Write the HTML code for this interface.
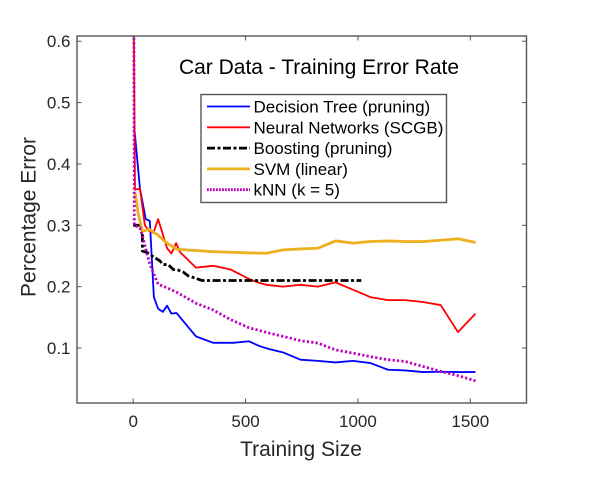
<!DOCTYPE html>
<html>
<head>
<meta charset="utf-8">
<title>Car Data - Training Error Rate</title>
<style>
html,body{margin:0;padding:0;background:#fff;width:593px;height:482px;overflow:hidden}
svg{display:block}
text{font-family:"Liberation Sans",Arial,sans-serif}
</style>
</head>
<body>
<svg id="chart" xmlns="http://www.w3.org/2000/svg" width="593" height="482" viewBox="0 0 593 482">
  <defs><clipPath id="plot-clip"><rect x="77" y="36" width="449.5" height="367"/></clipPath></defs>
  <rect x="0" y="0" width="593" height="482" fill="#fff"/>
  <g id="series-layer" clip-path="url(#plot-clip)"></g>
  <g id="axes-layer"></g>
  <text x="319" y="74" font-size="21" text-anchor="middle" fill="#000">Car Data - Training Error Rate</text>
  <text x="301" y="456" font-size="21" text-anchor="middle" fill="#262626">Training Size</text>
  <text transform="translate(35.5,217) rotate(-90)" font-size="21" text-anchor="middle" fill="#262626">Percentage Error</text>
  <g id="legend-layer"></g>
</svg>
<script>
// ---- chart data ----
var xTicks = [0, 500, 1000, 1500];
var yTicks = [0.1, 0.2, 0.3, 0.4, 0.5, 0.6];
var yTickLabels = ['0.1', '0.2', '0.3', '0.4', '0.5', '0.6'];
var seriesNames = ['Decision Tree (pruning)', 'Neural Networks (SCGB)', 'Boosting (pruning)', 'SVM (linear)', 'kNN (k = 5)'];

var treeX = [5, 30, 56, 74, 92, 111, 132, 151, 170, 193, 279, 356, 445, 515, 563, 608, 666, 744, 822, 900, 978, 1055, 1134, 1211, 1289, 1368, 1445, 1523];
var treeY = [0.459, 0.36, 0.31, 0.307, 0.183, 0.164, 0.159, 0.169, 0.156, 0.157, 0.119, 0.1085, 0.1085, 0.111, 0.103, 0.098, 0.093, 0.081, 0.079, 0.0765, 0.079, 0.0755, 0.0646, 0.0635, 0.0608, 0.0613, 0.0608, 0.0608];

var nnX = [3, 8, 30, 52, 71, 90, 111, 151, 170, 191, 208, 279, 356, 433, 515, 563, 593, 666, 744, 822, 900, 978, 1055, 1134, 1211, 1289, 1368, 1445, 1523];
var nnY = [0.62, 0.358, 0.36, 0.3, 0.291, 0.2875, 0.31, 0.2625, 0.254, 0.271, 0.2565, 0.231, 0.234, 0.228, 0.2127, 0.206, 0.203, 0.2, 0.203, 0.2, 0.207, 0.195, 0.183, 0.178, 0.178, 0.175, 0.17, 0.126, 0.156];

var boostX = [0, 30, 41, 41, 62, 89, 119, 133, 156, 178, 200, 222, 245, 267, 307, 400, 600, 800, 1015];
var boostY = [0.3, 0.3, 0.29, 0.258, 0.2555, 0.249, 0.242, 0.236, 0.236, 0.228, 0.227, 0.224, 0.2175, 0.215, 0.21, 0.21, 0.21, 0.21, 0.21];

var svmX = [2, 10, 22, 41, 71, 111, 141, 193, 279, 356, 515, 593, 666, 744, 822, 900, 978, 1055, 1134, 1211, 1289, 1368, 1445, 1523];
var svmY = [0.35, 0.35, 0.32, 0.29, 0.2935, 0.284, 0.2735, 0.261, 0.259, 0.257, 0.255, 0.2545, 0.26, 0.2615, 0.2626, 0.2745, 0.271, 0.2735, 0.2745, 0.2735, 0.2735, 0.2757, 0.278, 0.272];

var knnX = [3, 5, 30, 41, 74, 111, 148, 193, 279, 356, 430, 515, 608, 666, 744, 822, 900, 978, 1055, 1134, 1211, 1289, 1368, 1445, 1523];
var knnY = [0.62, 0.3, 0.296, 0.283, 0.2365, 0.204, 0.1985, 0.191, 0.173, 0.162, 0.147, 0.133, 0.124, 0.119, 0.112, 0.108, 0.097, 0.0916, 0.086, 0.081, 0.078, 0.07, 0.062, 0.055, 0.0465];

// ---- axis functions ----
var SVGNS = 'http://www.w3.org/2000/svg';
var plotL = 77, plotR = 526.5, plotT = 36, plotB = 403;
var xMin = -250, xMax = 1750, yMin = 0.0104, yMax = 0.6085;
function xScale(v) { return plotL + (v - xMin) / (xMax - xMin) * (plotR - plotL); }
function yScale(v) { return plotB - (v - yMin) / (yMax - yMin) * (plotB - plotT); }
function node(tag, attrs) {
  var el = document.createElementNS(SVGNS, tag);
  for (var k in attrs) { el.setAttribute(k, attrs[k]); }
  return el;
}

// ---- series ----
var seriesLayer = document.getElementById('series-layer');
function drawSeries(xs, ys, color, width, dash, name) {
  var pts = [];
  for (var i = 0; i < xs.length; i++) {
    pts.push(xScale(xs[i]).toFixed(2) + ',' + yScale(ys[i]).toFixed(2));
  }
  var line = node('polyline', {points: pts.join(' '), fill: 'none', stroke: color, 'stroke-width': width, 'stroke-linejoin': 'round'});
  if (dash) { line.setAttribute('stroke-dasharray', dash); }
  
  
  seriesLayer.appendChild(line);
}
drawSeries(treeX, treeY, '#0000ff', 1.8, '', 'series-decision-tree');
drawSeries(nnX, nnY, '#ff0000', 1.8, '', 'series-neural-networks');
drawSeries(boostX, boostY, '#000000', 2.8, '8 2.5 3 2.5', 'series-boosting');
drawSeries(svmX, svmY, '#edb120', 2.8, '', 'series-svm');
drawSeries(knnX, knnY, '#bf00bf', 2.8, '2.2 2.2', 'series-knn');

// ---- axes ----
var axes = document.getElementById('axes-layer');
var axisColor = '#555555';
var box = node('rect', {x: plotL, y: plotT, width: plotR - plotL, height: plotB - plotT, fill: 'none', stroke: axisColor, 'stroke-width': 1.4});


axes.appendChild(box);

xTicks.forEach(function (t) {
  var px = xScale(t);
  var tickB = node('line', {x1: px, x2: px, y1: plotB, y2: plotB - 4.5, stroke: axisColor, 'stroke-width': 1});
  
  
  axes.appendChild(tickB);
  var tickT = node('line', {x1: px, x2: px, y1: plotT, y2: plotT + 4.5, stroke: axisColor, 'stroke-width': 1});
  
  
  axes.appendChild(tickT);
  var label = node('text', {x: px, y: 427, 'font-size': 17, 'text-anchor': 'middle', fill: '#262626'});
  label.textContent = String(t);
  
  
  axes.appendChild(label);
});

yTicks.forEach(function (t, i) {
  var py = yScale(t);
  var tickL = node('line', {x1: plotL, x2: plotL + 4.5, y1: py, y2: py, stroke: axisColor, 'stroke-width': 1});
  
  
  axes.appendChild(tickL);
  var tickR = node('line', {x1: plotR, x2: plotR - 4.5, y1: py, y2: py, stroke: axisColor, 'stroke-width': 1});
  
  
  axes.appendChild(tickR);
  var label = node('text', {x: 70.5, y: py + 6, 'font-size': 17, 'text-anchor': 'end', fill: '#262626'});
  label.textContent = yTickLabels[i];
  
  
  axes.appendChild(label);
});

// ---- legend ----
var legend = document.getElementById('legend-layer');
var legendBox = node('rect', {x: 201, y: 94.5, width: 245.5, height: 108, fill: '#fff', stroke: axisColor, 'stroke-width': 1.4});


legend.appendChild(legendBox);
var legendColors = ['#0000ff', '#ff0000', '#000000', '#edb120', '#bf00bf'];
var legendWidths = [1.8, 1.8, 2.8, 2.8, 2.8];
var legendDashes = ['', '', '8 2.5 3 2.5', '', '1.8 1.2'];
seriesNames.forEach(function (name, i) {
  var rowY = 106.5 + i * 20.8;
  var swatch = node('line', {x1: 207, x2: 250, y1: rowY, y2: rowY, stroke: legendColors[i], 'stroke-width': legendWidths[i]});
  if (legendDashes[i]) { swatch.setAttribute('stroke-dasharray', legendDashes[i]); }
  
  
  legend.appendChild(swatch);
  var text = node('text', {x: 253.5, y: rowY + 6, 'font-size': 17, fill: '#000'});
  text.textContent = name;
  
  
  legend.appendChild(text);
});
</script>
</body>
</html>
